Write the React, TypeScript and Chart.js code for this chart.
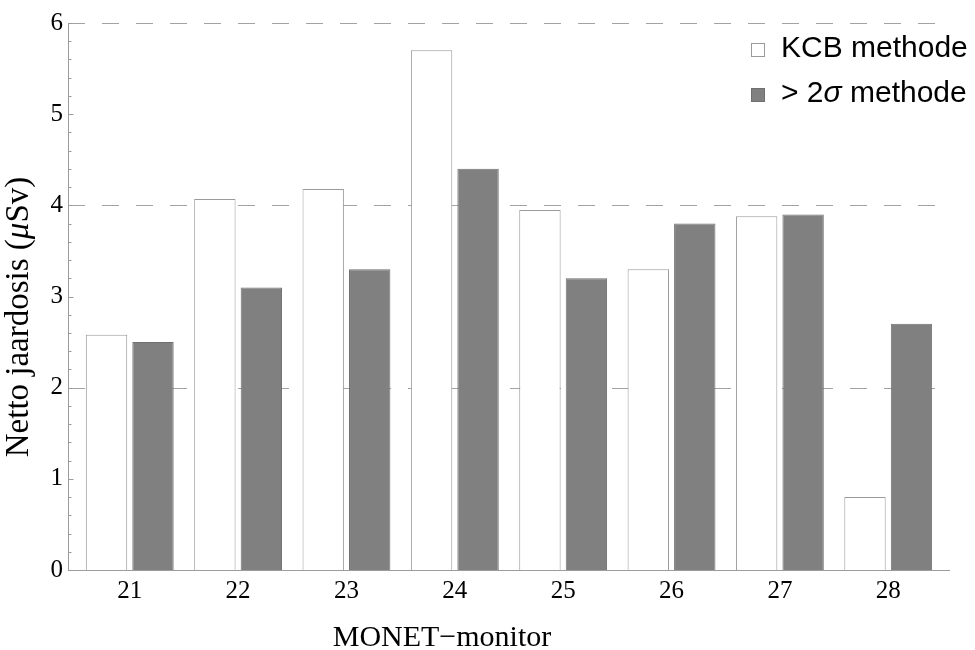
import React, { useEffect, useRef } from "react";
import { Chart, registerables } from "chart.js";

Chart.register(...registerables);

const monitors = [21, 22, 23, 24, 25, 26, 27, 28];
const kcbValues = [2.58, 4.07, 4.18, 5.7, 3.95, 3.3, 3.88, 0.8];
const sigmaValues = [2.5, 3.1, 3.3, 4.4, 3.2, 3.8, 3.9, 2.7];
const yTickValues = [0, 1, 2, 3, 4, 5, 6];
const gridValues = [2, 4, 6];
const legendLabels = ["KCB methode", "> 2σ methode"];
const xTitle = "MONET−monitor";
const yTitleParts = ["Netto jaardosis (", "μ", "Sv)"];

const SERIF = "'Liberation Serif', 'Times New Roman', serif";
const SANS = "'Liberation Sans', Arial, sans-serif";
const AXIS_COLOR = "#9c9c9c";

const decorPlugin = {
  id: "decor",
  beforeDatasetsDraw(chart: any) {
    const { ctx, chartArea, scales } = chart;
    const y = scales.y;
    ctx.save();
    ctx.strokeStyle = "#a3a3a3";
    ctx.lineWidth = 1;
    ctx.setLineDash([17, 17]);
    gridValues.forEach((v) => {
      const py = Math.round(y.getPixelForValue(v)) + 0.5;
      ctx.beginPath();
      ctx.moveTo(chartArea.left, py);
      ctx.lineTo(chartArea.right, py);
      ctx.stroke();
    });
    ctx.restore();
  },
  afterDatasetsDraw(chart: any) {
    const { ctx, chartArea, scales } = chart;
    const y = scales.y;
    ctx.save();
    ctx.strokeStyle = AXIS_COLOR;
    ctx.lineWidth = 1;
    ctx.setLineDash([]);
    const left = Math.round(chartArea.left) + 0.5;
    const bottom = Math.round(y.getPixelForValue(0)) + 0.5;
    const top = Math.round(y.getPixelForValue(6)) + 0.5;
    ctx.beginPath();
    ctx.moveTo(left, top);
    ctx.lineTo(left, bottom);
    ctx.stroke();
    ctx.beginPath();
    ctx.moveTo(chartArea.left, bottom);
    ctx.lineTo(chartArea.right, bottom);
    ctx.stroke();
    for (let k = 0; k <= 30; k++) {
      const v = k / 5;
      const py = Math.round(y.getPixelForValue(v)) + 0.5;
      const len = k % 5 === 0 ? 5 : 3;
      ctx.beginPath();
      ctx.moveTo(left, py);
      ctx.lineTo(left + len, py);
      ctx.stroke();
    }

    // x title
    ctx.fillStyle = "#000";
    ctx.font = `30px ${SERIF}`;
    ctx.textAlign = "center";
    ctx.textBaseline = "alphabetic";
    ctx.fillText(xTitle, 442, 646);

    // y title with italic mu
    const fonts = [`33px ${SERIF}`, `italic 33px ${SERIF}`, `33px ${SERIF}`];
    const widths = yTitleParts.map((p, i) => {
      ctx.font = fonts[i];
      return ctx.measureText(p).width;
    });
    const total = widths.reduce((a, b) => a + b, 0);
    ctx.save();
    ctx.translate(28, 317);
    ctx.rotate(-Math.PI / 2);
    ctx.textAlign = "left";
    let cx = -total / 2;
    yTitleParts.forEach((p, i) => {
      ctx.font = fonts[i];
      ctx.fillText(p, cx, 0);
      cx += widths[i];
    });
    ctx.restore();

    // legend
    const rows = [
      { fill: "#ffffff", stroke: "#9a9a9a", label: legendLabels[0], base: 57 },
      { fill: "#808080", stroke: "#6f6f6f", label: legendLabels[1], base: 102 },
    ];
    rows.forEach((r) => {
      ctx.fillStyle = r.fill;
      ctx.strokeStyle = r.stroke;
      ctx.fillRect(751, r.base - 14, 14, 14);
      ctx.strokeRect(751.5, r.base - 13.5, 13, 13);
      ctx.fillStyle = "#000";
      ctx.textAlign = "left";
      let tx = 781;
      const segs = r.label.split(/(σ)/);
      segs.forEach((s) => {
        if (!s) return;
        ctx.font = s === "σ" ? `italic 30px ${SANS}` : `30px ${SANS}`;
        ctx.fillText(s, tx, r.base);
        tx += ctx.measureText(s).width;
      });
    });
    ctx.restore();
  },
};

export default function App() {
  const canvasRef = useRef<HTMLCanvasElement | null>(null);

  useEffect(() => {
    if (!canvasRef.current) return;
    const chart = new Chart(canvasRef.current, {
      type: "bar",
      data: {
        datasets: [
          {
            label: legendLabels[0],
            data: monitors.map((m, i) => ({ x: m, y: kcbValues[i] })),
            backgroundColor: "#ffffff",
            borderColor: "#9a9a9a",
            borderWidth: 1,
            categoryPercentage: 0.858,
            barPercentage: 0.89,
          },
          {
            label: legendLabels[1],
            data: monitors.map((m, i) => ({ x: m, y: sigmaValues[i] })),
            backgroundColor: "#808080",
            borderColor: "#6f6f6f",
            borderWidth: 1,
            categoryPercentage: 0.858,
            barPercentage: 0.89,
          },
        ],
      },
      options: {
        animation: false,
        responsive: false,
        layout: { padding: { top: 23, right: 25, left: 0, bottom: 0 } },
        plugins: {
          legend: { display: false },
          tooltip: { enabled: false },
        },
        scales: {
          x: {
            type: "linear",
            offset: false,
            min: 20.43,
            max: 28.57,
            afterBuildTicks: (s: any) => {
              s.ticks = monitors.map((v) => ({ value: v }));
            },
            afterFit: (s: any) => {
              s.height = 80;
            },
            grid: { display: false, drawTicks: false, offset: false },
            border: { display: false },
            ticks: {
              autoSkip: false,
              maxRotation: 0,
              padding: 6,
              color: "#000",
              font: { family: SERIF, size: 25 },
              callback: (v: any) => String(v),
            },
          },
          y: {
            min: 0,
            max: 6,
            afterBuildTicks: (s: any) => {
              s.ticks = yTickValues.map((v) => ({ value: v }));
            },
            afterFit: (s: any) => {
              s.width = 68;
            },
            grid: { display: false, drawTicks: false },
            border: { display: false },
            ticks: {
              padding: 5,
              color: "#000",
              font: { family: SERIF, size: 25 },
            },
          },
        },
      },
      plugins: [decorPlugin],
    } as any);
    return () => chart.destroy();
  }, []);

  return (
    <div style={{ position: "fixed", left: 0, top: 0, width: 975, height: 650, background: "#fff" }}>
      <canvas ref={canvasRef} width={975} height={650} style={{ display: "block" }} />
    </div>
  );
}
